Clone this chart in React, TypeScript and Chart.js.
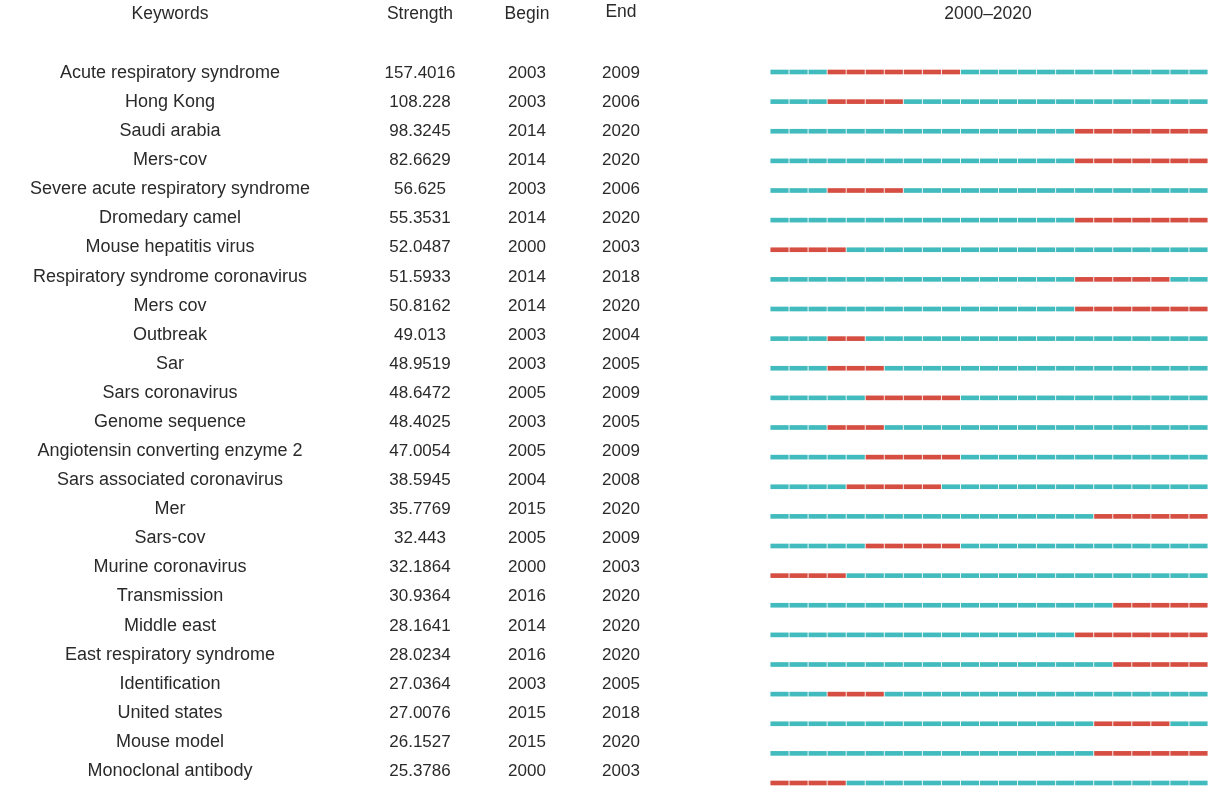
import { useEffect, useRef } from 'react';
import { Chart, registerables } from 'chart.js';

Chart.register(...registerables);

const keywords = [
  'Acute respiratory syndrome',
  'Hong Kong',
  'Saudi arabia',
  'Mers-cov',
  'Severe acute respiratory syndrome',
  'Dromedary camel',
  'Mouse hepatitis virus',
  'Respiratory syndrome coronavirus',
  'Mers cov',
  'Outbreak',
  'Sar',
  'Sars coronavirus',
  'Genome sequence',
  'Angiotensin converting enzyme 2',
  'Sars associated coronavirus',
  'Mer',
  'Sars-cov',
  'Murine coronavirus',
  'Transmission',
  'Middle east',
  'East respiratory syndrome',
  'Identification',
  'United states',
  'Mouse model',
  'Monoclonal antibody',
];

const strength = [
  '157.4016', '108.228', '98.3245', '82.6629', '56.625', '55.3531', '52.0487',
  '51.5933', '50.8162', '49.013', '48.9519', '48.6472', '48.4025', '47.0054',
  '38.5945', '35.7769', '32.443', '32.1864', '30.9364', '28.1641', '28.0234',
  '27.0364', '27.0076', '26.1527', '25.3786',
];

const beginYear = [
  2003, 2003, 2014, 2014, 2003, 2014, 2000, 2014, 2014, 2003, 2003, 2005, 2003,
  2005, 2004, 2015, 2005, 2000, 2016, 2014, 2016, 2003, 2015, 2015, 2000,
];

const endYear = [
  2009, 2006, 2020, 2020, 2006, 2020, 2003, 2018, 2020, 2004, 2005, 2009, 2005,
  2009, 2008, 2020, 2009, 2003, 2020, 2020, 2020, 2005, 2018, 2020, 2003,
];

// Burst positions as drawn in the picture (timeline slot index, inclusive)
const burstStartSlot = [
  3, 3, 16, 16, 3, 16, 0, 16, 16, 3, 3, 5, 3, 5, 4, 17, 5, 0, 18, 16, 18, 3, 17, 17, 0,
];
const burstEndSlot = [
  9, 6, 22, 22, 6, 22, 3, 20, 22, 4, 5, 9, 5, 9, 8, 22, 9, 3, 22, 22, 22, 5, 20, 22, 3,
];

const timelineSlots = Array.from({ length: 23 }, (_, s) => s);

const headers = ['Keywords', 'Strength', 'Begin', 'End', '2000\u20132020'];

const TEAL = 'rgb(66, 187, 190)';
const RED = 'rgb(214, 78, 66)';
const FONT = '"Liberation Sans", Arial, Helvetica, sans-serif';

const colCenters = [170, 420, 527, 621];
const headerCenters = [170, 420, 527, 621, 988];
const ROW_TOP = 72;
const ROW_STEP = 29.08;

export default function App() {
  const canvasRef = useRef<HTMLCanvasElement | null>(null);

  useEffect(() => {
    const canvas = canvasRef.current;
    if (!canvas) return;
    const datasets = timelineSlots.map((s) => ({
      label: 'slot' + s,
      data: keywords.map(() => [s + 0.04, s + 0.96]),
      backgroundColor: keywords.map((_, i) =>
        s >= burstStartSlot[i] && s <= burstEndSlot[i] ? RED : TEAL
      ),
      borderWidth: 0,
      barThickness: 4,
      grouped: false,
      clip: false as any,
    }));
    const chart = new Chart(canvas, {
      type: 'bar',
      data: { labels: keywords, datasets: datasets as any },
      options: {
        indexAxis: 'y',
        animation: false,
        responsive: false,
        devicePixelRatio: 1,
        layout: { padding: { left: 770, right: 0, top: 72, bottom: 8 } },
        scales: {
          x: { type: 'linear', min: 0, max: 23, display: false },
          y: { type: 'category', offset: false, display: false },
        },
        plugins: {
          legend: { display: false },
          tooltip: { enabled: false },
        },
      },
    });
    return () => chart.destroy();
  }, []);

  const cell = (text: string, x: number, y: number, key: string, size: number) => (
    <div
      key={key}
      style={{
        position: 'absolute',
        left: x,
        top: y,
        transform: 'translate(-50%, -50%)',
        whiteSpace: 'nowrap',
        fontFamily: FONT,
        fontSize: size,
        color: '#2a2a2a',
        lineHeight: 1,
      }}
    >
      {text}
    </div>
  );

  return (
    <div
      style={{
        position: 'absolute',
        left: 0,
        top: 0,
        width: 1208,
        height: 791,
        background: '#fff',
        overflow: 'hidden',
      }}
    >
      <canvas
        ref={canvasRef}
        width={1208}
        height={791}
        style={{ position: 'absolute', left: 0, top: 0, width: 1208, height: 791 }}
      />
      {headers.map((h, j) => cell(h, headerCenters[j], j === 3 ? 12 : 14, 'h' + j, 17.5))}
      {keywords.map((k, i) => {
        const y = ROW_TOP + ROW_STEP * i;
        return [
          cell(k, colCenters[0], y, 'k' + i, 18),
          cell(strength[i], colCenters[1], y, 's' + i, 17),
          cell(String(beginYear[i]), colCenters[2], y, 'b' + i, 17),
          cell(String(endYear[i]), colCenters[3], y, 'e' + i, 17),
        ];
      })}
    </div>
  );
}
